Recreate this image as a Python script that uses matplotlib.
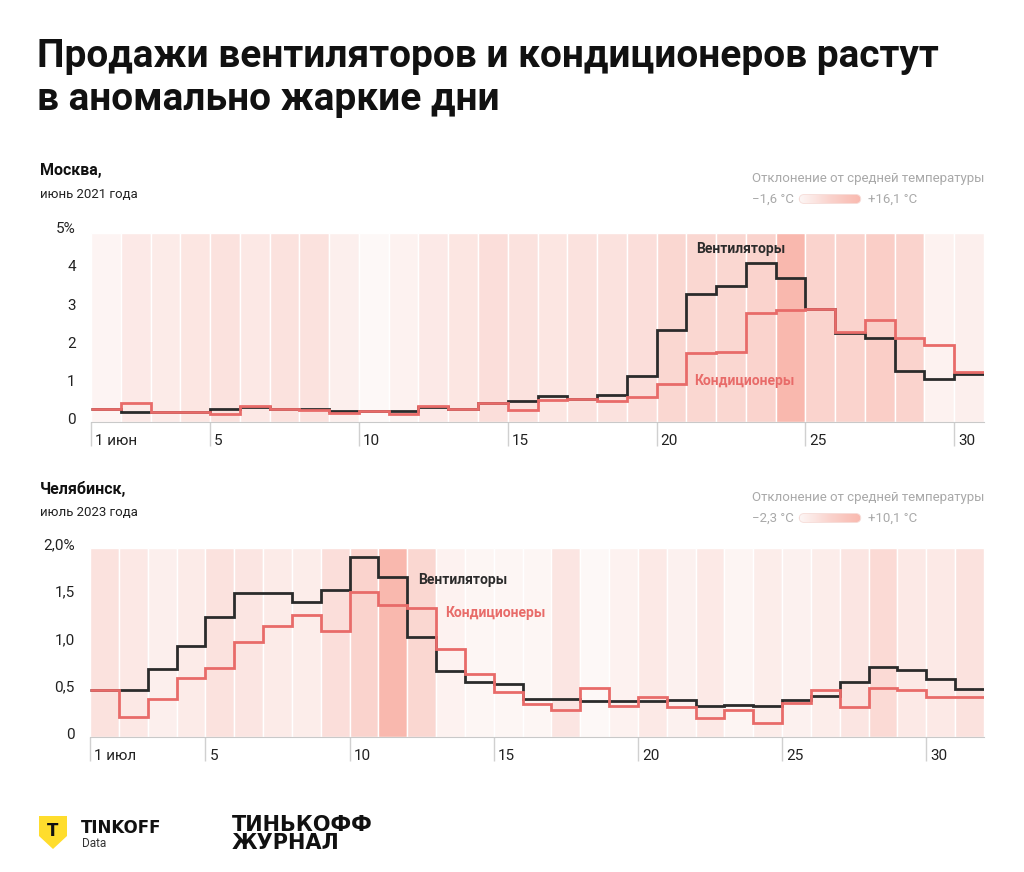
import matplotlib
matplotlib.use("Agg")
import matplotlib.pyplot as plt
import matplotlib.transforms as mtransforms
from matplotlib.colors import LinearSegmentedColormap, Normalize
from matplotlib.patches import Polygon, FancyBboxPatch
import numpy as np

plt.rcParams['font.family'] = ['Roboto', 'DejaVu Sans']

# --- data: Moscow, June 2021 (share of month sales, %) ---
msk_days = list(range(1, 31))
msk_fans = [0.23, 0.17, 0.16, 0.15, 0.23, 0.29, 0.25, 0.23, 0.20, 0.18,
            0.18, 0.30, 0.25, 0.39, 0.45, 0.58, 0.51, 0.60, 1.12, 2.32,
            3.26, 3.48, 4.07, 3.69, 2.86, 2.24, 2.12, 1.24, 1.04, 1.16]
msk_ac = [0.23, 0.39, 0.15, 0.15, 0.12, 0.31, 0.25, 0.21, 0.14, 0.18,
          0.10, 0.31, 0.25, 0.39, 0.22, 0.47, 0.51, 0.45, 0.56, 0.89,
          1.71, 1.74, 2.77, 2.84, 2.88, 2.26, 2.58, 2.12, 1.92, 1.21]
msk_temp = [-0.7, 1.9, 1.6, 2.8, 3.7, 2.3, 3.7, 3.7, 0.5, -1.6,
            -0.2, 1.9, 2.8, 4.6, 3.7, 2.8, 3.7, 3.7, 4.6, 6.4,
            6.4, 6.4, 7.3, 16.1, 7.3, 7.3, 9.0, 7.3, -0.2, 0.5]
msk_temp_range = (-1.6, 16.1)

# --- data: Chelyabinsk, July 2023 ---
chel_days = list(range(1, 32))
chel_fans = [0.46, 0.46, 0.68, 0.92, 1.23, 1.48, 1.48, 1.39, 1.51, 1.86,
             1.65, 1.02, 0.66, 0.54, 0.52, 0.36, 0.36, 0.34, 0.34, 0.34,
             0.35, 0.29, 0.30, 0.29, 0.35, 0.40, 0.54, 0.70, 0.67, 0.57, 0.47]
chel_ac = [0.46, 0.17, 0.36, 0.59, 0.69, 0.97, 1.13, 1.25, 1.08, 1.49,
           1.35, 1.32, 0.89, 0.63, 0.44, 0.31, 0.25, 0.48, 0.29, 0.39,
           0.28, 0.16, 0.25, 0.11, 0.32, 0.46, 0.28, 0.48, 0.46, 0.39, 0.38]
chel_temp = [1.4, 0.4, -0.8, -0.1, 1.4, 0.8, -0.1, -0.4, 2.0, 3.9,
             10.1, 3.3, -1.3, -1.9, -1.9, -1.9, 0.8, -2.3, -1.3, 0.2,
             -1.1, 0.2, -1.7, -0.4, -1.1, -0.4, 0.8, 2.7, 0.2, 0.2, 1.4]
chel_temp_range = (-2.3, 10.1)

msk_xticks = [1, 5, 10, 15, 20, 25, 30]
msk_xlabels = ['1 июн', '5', '10', '15', '20', '25', '30']
msk_yticks = [0, 1, 2, 3, 4, 5]
msk_ylabels = ['0', '1', '2', '3', '4', '5%']
chel_xticks = [1, 5, 10, 15, 20, 25, 30]
chel_xlabels = ['1 июл', '5', '10', '15', '20', '25', '30']
chel_yticks = [0, 0.5, 1.0, 1.5, 2.0]
chel_ylabels = ['0', '0,5', '1,0', '1,5', '2,0%']

BLACK = '#2b2b2b'
RED = '#e86b69'
GRAY = '#a9a9a9'
heat = LinearSegmentedColormap.from_list(
    'heat', [(0, '#fdf8f7'), (0.5, '#fad3cd'), (1, '#f9b8ae')])

W, H = 1024, 872
fig = plt.figure(figsize=(W / 100, H / 100), dpi=100)


def fx(x):
    return x / W


def fy(y):
    return 1 - y / H


def draw_panel(rect, days, fans, ac, temp, trange, ylim, xticks, xlabels,
               yticks, ylabels, band_top, fan_lbl, ac_lbl, fan_ha, ac_ha):
    ax = fig.add_axes(rect)
    norm = Normalize(*trange)
    for d, t in zip(days, temp):
        ax.axvspan(d, d + 1, ymin=0, ymax=band_top, facecolor=heat(norm(t)),
                   edgecolor='white', linewidth=1, zorder=0)
    edges = np.arange(days[0], days[-1] + 2)
    ax.stairs(fans, edges, baseline=None, color=BLACK, lw=2, zorder=3)
    ax.stairs(ac, edges, baseline=None, color=RED, lw=2, zorder=4)
    ax.set_xlim(edges[0], edges[-1])
    ax.set_ylim(*ylim)
    for s in ['top', 'right', 'left']:
        ax.spines[s].set_visible(False)
    ax.spines['bottom'].set_color('#c9c9c9')
    ax.spines['bottom'].set_zorder(5)
    ax.set_yticks(yticks)
    ax.set_yticklabels(ylabels, fontsize=11, color='#222222')
    ax.tick_params(axis='y', length=0, pad=11)
    ax.set_xticks(xticks)
    ax.tick_params(axis='x', length=17, color='#d0d0d0', width=1,
                   labelbottom=False)
    trans = mtransforms.offset_copy(ax.get_xaxis_transform(), fig=fig,
                                    x=4, y=-19, units='dots')
    for x, lab in zip(xticks, xlabels):
        ax.text(x, 0, lab, transform=trans, ha='left', va='center',
                fontsize=11, color='#222222')
    ax.text(fan_lbl[0], fan_lbl[1], 'Вентиляторы', ha=fan_ha, va='center',
            fontsize=10, fontweight='bold', color=BLACK, zorder=6)
    ax.text(ac_lbl[0], ac_lbl[1], 'Кондиционеры', ha=ac_ha, va='center',
            fontsize=10, fontweight='bold', color=RED, zorder=6)
    return ax


# top panel (Moscow)
draw_panel([fx(91), fy(422), fx(984) - fx(91), fy(226) - fy(422)],
           msk_days, msk_fans, msk_ac, msk_temp, msk_temp_range,
           (-0.1, 5.05), msk_xticks, msk_xlabels, msk_yticks, msk_ylabels,
           0.964, (22.84, 4.45), (22.94, 0.97), 'center', 'center')

# bottom panel (Chelyabinsk)
draw_panel([fx(90), fy(737), fx(984) - fx(90), fy(541) - fy(737)],
           chel_days, chel_fans, chel_ac, chel_temp, chel_temp_range,
           (-0.037, 2.03), chel_xticks, chel_xlabels, chel_yticks, chel_ylabels,
           0.964, (12.37, 1.62), (13.3, 1.27), 'left', 'left')

# title
fig.text(fx(37), fy(38), 'Продажи вентиляторов и кондиционеров растут\nв аномально жаркие дни',
         ha='left', va='top', fontsize=28, fontweight='bold', color='#111111',
         linespacing=1.22)

# panel headers
for y0, city, period, tmin, tmax in [(170, 'Москва,', 'июнь 2021 года', '−1,6 °C', '+16,1 °C'),
                                     (489, 'Челябинск,', 'июль 2023 года', '−2,3 °C', '+10,1 °C')]:
    fig.text(fx(40), fy(y0), city, ha='left', va='center', fontsize=11.5,
             fontweight='bold', color='#111111')
    fig.text(fx(40), fy(y0 + 24), period, ha='left', va='center', fontsize=9.5,
             color='#222222')
    fig.text(fx(752), fy(y0 + 8), 'Отклонение от средней температуры', ha='left',
             va='center', fontsize=9.5, color=GRAY)
    fig.text(fx(752), fy(y0 + 29), tmin, ha='left', va='center', fontsize=9.5,
             color=GRAY)
    fig.text(fx(868), fy(y0 + 29), tmax, ha='left', va='center', fontsize=9.5,
             color=GRAY)
    cax = fig.add_axes([fx(798), fy(y0 + 34), fx(862) - fx(798), fy(y0 + 24) - fy(y0 + 34)])
    im = cax.imshow(np.linspace(0, 1, 100)[None, :], cmap=heat, aspect='auto',
                    extent=(0, 1, 0, 1))
    clip = FancyBboxPatch((0.02, 0.05), 0.96, 0.9,
                          boxstyle='round,pad=0,rounding_size=0.08',
                          transform=cax.transAxes, facecolor='none',
                          edgecolor='#f6dcd8', lw=0.6, mutation_aspect=6)
    cax.add_patch(clip)
    im.set_clip_path(clip)
    cax.axis('off')

# logos
shield = Polygon([(fx(39), fy(816)), (fx(67), fy(816)), (fx(67), fy(836)),
                  (fx(53), fy(849)), (fx(39), fy(836))], closed=True,
                 transform=fig.transFigure, facecolor='#ffdd2d', edgecolor='none')
fig.patches.append(shield)
fig.text(fx(53), fy(831), 'T', ha='center', va='center', fontsize=12,
         fontweight='heavy', color='#111111', family='DejaVu Sans')
fig.text(fx(81), fy(828), 'TINKOFF', ha='left', va='center', fontsize=12,
         fontweight='heavy', color='#111111', family='DejaVu Sans')
fig.text(fx(82), fy(843), 'Data', ha='left', va='center', fontsize=8.5,
         color='#333333')
fig.text(fx(232), fy(834), 'ТИНЬКОФФ\nЖУРНАЛ', ha='left', va='center',
         fontsize=15, fontweight='heavy', color='#111111',
         family='DejaVu Sans', linespacing=0.9)

fig.savefig('out.png', dpi=100, facecolor='white')
